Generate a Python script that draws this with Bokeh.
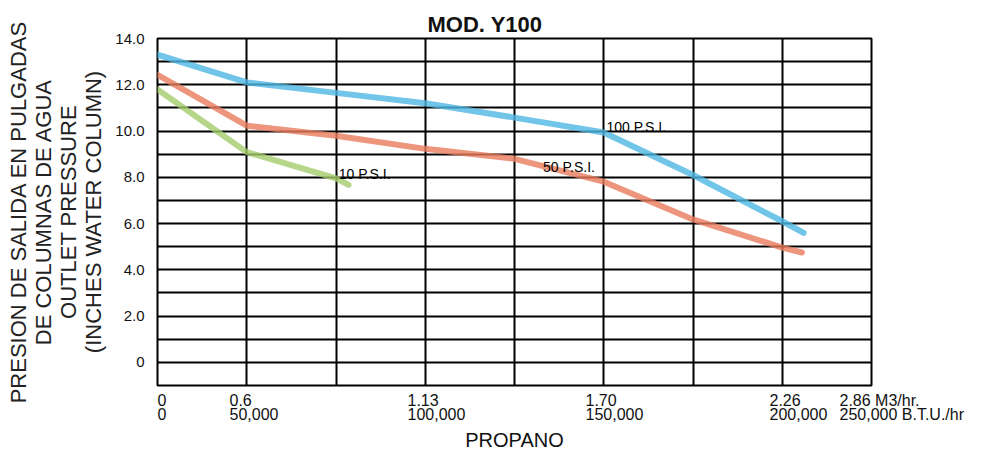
import math
from bokeh.plotting import figure
from bokeh.models import FixedTicker, Label, LinearAxis, Range1d
from bokeh.embed import file_html
from bokeh.resources import INLINE

# ---- data (x in grid-column units, 8 equal columns) ----
x_100 = [0, 1, 2, 3, 4, 5, 6, 7, 7.24]
y_100 = [13.3, 12.1, 11.65, 11.2, 10.58, 9.94, 8.1, 6.1, 5.6]

x_50 = [0, 1, 2, 3, 4, 5, 6, 7, 7.22]
y_50 = [12.43, 10.23, 9.8, 9.23, 8.8, 7.81, 6.18, 4.96, 4.75]

x_10 = [0, 1, 2, 2.14]
y_10 = [11.8, 9.09, 7.95, 7.67]

series_names = ["10 P.S.I.", "50 P.S.I.", "100 P.S.I."]
series_label_x = [2.03, 4.32, 5.03]
series_label_y = [8.15, 8.44, 10.18]

x_tick_pos = [0, 1, 3, 5, 7, 8]
x_tick_m3 = ["0", "0.6", "1.13", "1.70", "2.26", "2.86 M3/hr."]
x_tick_btu = ["0", "50,000", "100,000", "150,000", "200,000", "250,000 B.T.U./hr"]

y_tick_pos = [0, 2, 4, 6, 8, 10, 12, 14]
y_tick_txt = ["0", "2.0", "4.0", "6.0", "8.0", "10.0", "12.0", "14.0"]

# ---- styling ----
FONT = "Liberation Sans"
W, H = 968, 454
BL, BR, BT, BB = 157, 97, 38, 68
FRAME_W = W - BL - BR
COL_PX = FRAME_W / 8.0
x_label_offsets = [0, -17, -18, -18, -13, -32]   # px shift of the left-aligned tick texts

p = figure(width=W, height=H,
           min_border_left=BL, min_border_right=BR,
           min_border_top=BT, min_border_bottom=BB,
           x_range=(0, 8), y_range=(-1, 14),
           output_backend="svg", toolbar_location=None,
           background_fill_color="white", border_fill_color="white")

p.title.text = "MOD. Y100"
p.title.text_font = FONT
p.title.text_font_size = "22px"
p.title.text_font_style = "bold"
p.title.text_color = "#111111"
p.title.align = "left"
p.title.offset = 270
p.title.standoff = 4

p.outline_line_color = "black"
p.outline_line_width = 2
p.outline_line_alpha = 1

p.xgrid.ticker = FixedTicker(ticks=list(range(0, 9)))
p.ygrid.ticker = FixedTicker(ticks=list(range(-1, 15)))
for g in (p.xgrid[0], p.ygrid[0]):
    g.grid_line_color = "black"
    g.grid_line_width = 2
    g.grid_line_alpha = 1

# y axis
ya = p.yaxis[0]
ya.ticker = FixedTicker(ticks=y_tick_pos)
ya.major_label_overrides = {t: s for t, s in zip(y_tick_pos, y_tick_txt)}
ya.axis_line_color = None
ya.major_tick_line_color = None
ya.minor_tick_line_color = None
ya.major_label_standoff = 7
ya.major_label_text_font = FONT
ya.major_label_text_font_size = "15px"
ya.major_label_text_color = "#111111"
ya.axis_label = "PRESION DE SALIDA EN PULGADAS\nDE COLUMNAS DE AGUA\nOUTLET PRESSURE\n(INCHES WATER COLUMN)"
ya.axis_label_text_font = FONT
ya.axis_label_text_font_size = "22px"
ya.axis_label_text_font_style = "normal"
ya.axis_label_text_line_height = 1.0
ya.axis_label_text_color = "#222222"
ya.axis_label_standoff = 6

# x axis: labels laid out on a pixel range, left-aligned where the source's start
p.xaxis.visible = False
p.extra_x_ranges = {"lab": Range1d(0, FRAME_W)}
lab_ticks = [max(0, round(t * COL_PX + o)) for t, o in zip(x_tick_pos, x_label_offsets)]
xa = LinearAxis(x_range_name="lab")
xa.ticker = FixedTicker(ticks=lab_ticks)
xa.major_label_overrides = {t: a + "\n" + b for t, a, b in zip(lab_ticks, x_tick_m3, x_tick_btu)}
xa.major_label_orientation = -0.0001
xa.axis_line_color = None
xa.major_tick_line_color = None
xa.minor_tick_line_color = None
xa.major_tick_out = 0
xa.major_label_standoff = 22
xa.major_label_text_align = "left"
xa.major_label_text_font = FONT
xa.major_label_text_font_size = "16px"
xa.major_label_text_line_height = 0.86
xa.major_label_text_color = "#111111"
xa.axis_label = "PROPANO"
xa.axis_label_text_font = FONT
xa.axis_label_text_font_size = "20px"
xa.axis_label_text_font_style = "normal"
xa.axis_label_text_color = "#111111"
xa.axis_label_standoff = -13
p.add_layout(xa, "below")

# curves
p.line(x_100, y_100, line_color="#4cb6e2", line_width=6, line_alpha=0.8, line_join="round", line_cap="round")
p.line(x_50, y_50, line_color="#ea7c5c", line_width=6, line_alpha=0.8, line_join="round", line_cap="round")
p.line(x_10, y_10, line_color="#a4cc6c", line_width=6, line_alpha=0.8, line_join="round", line_cap="round")

# series labels
for name, lx, ly in zip(series_names, series_label_x, series_label_y):
    p.add_layout(Label(x=lx, y=ly, text=name, text_font=FONT, text_font_size="14px",
                       text_color="black", text_align="left", text_baseline="alphabetic"))

open("out.html", "w").write(file_html(p, INLINE))
